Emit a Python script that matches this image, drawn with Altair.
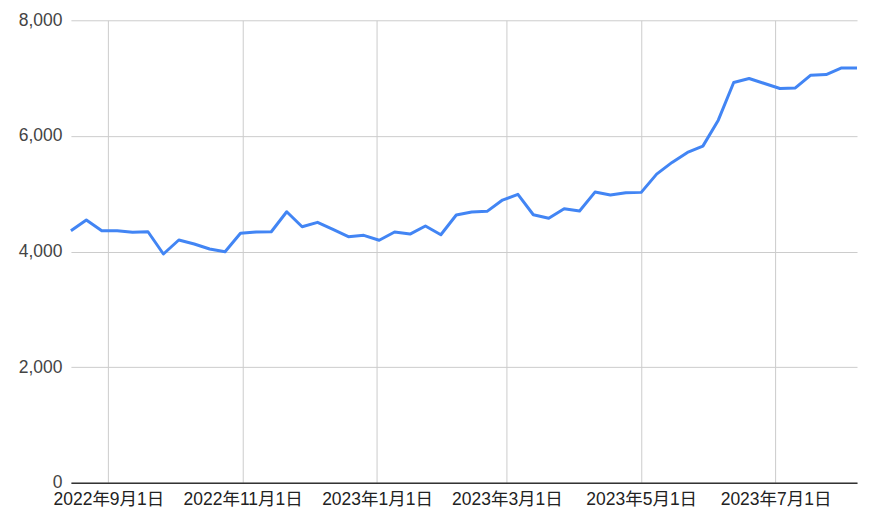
import altair as alt
import pandas as pd

dates = [
    "2022-08-15", "2022-08-22", "2022-08-29", "2022-09-05", "2022-09-12", "2022-09-19", "2022-09-26",
    "2022-10-03", "2022-10-10", "2022-10-17", "2022-10-24", "2022-10-31",
    "2022-11-07", "2022-11-14", "2022-11-21", "2022-11-28",
    "2022-12-05", "2022-12-12", "2022-12-19", "2022-12-26",
    "2023-01-02", "2023-01-09", "2023-01-16", "2023-01-23", "2023-01-30",
    "2023-02-06", "2023-02-13", "2023-02-20", "2023-02-27",
    "2023-03-06", "2023-03-13", "2023-03-20", "2023-03-27",
    "2023-04-03", "2023-04-10", "2023-04-17", "2023-04-24",
    "2023-05-01", "2023-05-08", "2023-05-15", "2023-05-22", "2023-05-29",
    "2023-06-05", "2023-06-12", "2023-06-19", "2023-06-26",
    "2023-07-03", "2023-07-10", "2023-07-17", "2023-07-24", "2023-07-31",
    "2023-08-07",
]
values = [
    4360, 4544, 4360, 4360, 4332, 4342, 3957, 4199, 4130, 4043, 3997, 4315,
    4337, 4342, 4688, 4429, 4505, 4384, 4256, 4280, 4194, 4337, 4302, 4441,
    4290, 4631, 4683, 4695, 4890, 4988, 4636, 4574, 4740, 4700, 5028, 4976,
    5016, 5023, 5339, 5541, 5714, 5823, 6272, 6924, 6993, 6906, 6820, 6830,
    7050, 7062, 7176, 7176,
]
x_ticks = [(2022, 9, 1), (2022, 11, 1), (2023, 1, 1), (2023, 3, 1), (2023, 5, 1), (2023, 7, 1)]
y_ticks = [0, 2000, 4000, 6000, 8000]

df = pd.DataFrame({"date": dates, "value": values})

FONT = "Arial, 'Liberation Sans', 'Noto Sans CJK JP', sans-serif"

chart = (
    alt.Chart(df)
    .mark_line(color="#4285F4", strokeWidth=3, strokeJoin="round")
    .encode(
        x=alt.X(
            "date:T",
            scale=alt.Scale(
                type="utc",
                domain=[
                    alt.DateTime(year=2022, month=8, date=15, utc=True),
                    alt.DateTime(year=2023, month=8, date=7, utc=True),
                ],
                nice=False,
            ),
            axis=alt.Axis(
                title=None,
                values=[alt.DateTime(year=y, month=m, date=d, utc=True) for (y, m, d) in x_ticks],
                labelExpr="utcFormat(datum.value, '%Y年%-m月%-d日')",
                grid=True,
                gridColor="#cccccc",
                gridWidth=1,
                ticks=False,
                domain=True,
                domainColor="#333333",
                domainWidth=1.3,
                labelPadding=8,
                labelFontSize=17.5,
                labelColor="#222222",
                labelFont=FONT,
                labelAlign="center",
                labelOverlap=False,
                labelFlush=False,
            ),
        ),
        y=alt.Y(
            "value:Q",
            scale=alt.Scale(domain=[0, 8000], nice=False),
            axis=alt.Axis(
                title=None,
                values=y_ticks,
                format=",d",
                grid=True,
                gridColor="#cccccc",
                gridWidth=1,
                ticks=False,
                domain=False,
                labelPadding=9,
                labelFontSize=17.5,
                labelColor="#444444",
                labelFont=FONT,
            ),
        ),
    )
    .properties(
        width=787,
        height=463,
        autosize=alt.AutoSizeParams(type="none"),
        padding={"left": 63, "top": 12, "right": 5, "bottom": 30},
    )
    .configure_view(stroke=None)
)

chart.save("out.html", embed_options={"renderer": "svg", "actions": False})
